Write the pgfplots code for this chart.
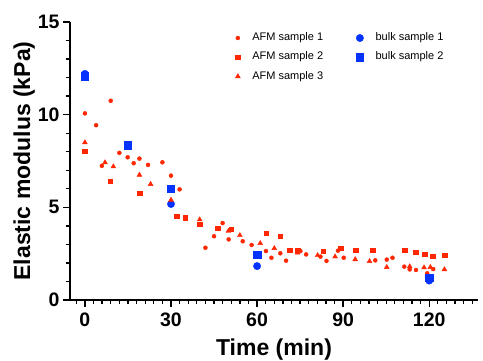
\documentclass[border=0pt]{standalone}
\usepackage{pgfplots}
\pgfplotsset{compat=1.18}
\usepackage{fontspec}
\setmainfont{Liberation Sans}
\definecolor{pred}{HTML}{FF2600}
\definecolor{pblue}{HTML}{0433FF}
\begin{document}
\begin{tikzpicture}
\path[use as bounding box] (0,0) rectangle (483pt,360pt);
\begin{axis}[
  at={(70pt,60pt)}, anchor=south west,
  scale only axis, width=408pt, height=278pt,
  xmin=-5.2, xmax=137, ymin=0, ymax=15,
  axis lines=left,
  axis line style={line width=1.5pt,-},
  xtick={0,30,60,90,120},
  minor xtick={-3,3,6,...,135},
  ytick={0,5,10,15},
  minor ytick={1,...,14},
  tick align=outside,
  major tick length=7pt, minor tick length=4pt,
  every tick/.style={line width=1.3pt, black},
  /pgf/number format/assume math mode=true,
  ticklabel style={font=\bfseries\fontsize{19.5}{20}\selectfont},
  xticklabel style={yshift=-2pt},
  xlabel={Time (min)},
  ylabel={Elastic modulus (kPa)},
  label style={font=\bfseries\fontsize{23}{25}\selectfont},
  xlabel style={yshift=-5.5pt},
  ylabel style={yshift=-4pt},
  clip=false,
  legend columns=2,
  legend cell align=left,
  legend style={draw=none, fill=none, inner sep=0pt,
    at={(0.405,0.962)}, anchor=north west,
    font=\fontsize{11}{13}\selectfont,
    nodes={inner sep=0pt, text height=8pt, text depth=2.5pt},
    row sep=8.7pt,
    /tikz/every odd column/.append style={column sep=12pt},
    /tikz/every even column/.append style={column sep=33pt}},
  legend image code/.code={\draw[#1] plot coordinates {(0pt,0pt)};},
]
\addplot[only marks, mark=*, mark size=2pt, color=pred] coordinates {
(0,10.07) (3.9,9.43) (5.9,7.24) (9,10.75) (12,7.94) (14.9,7.7) (17,7.38) (19,7.63) (22,7.29) (27,7.43) (30,6.71) (33,5.97) (42,2.82) (45,3.44) (48,4.15) (50.1,3.27) (55,3.17) (58.1,2.97) (63.1,2.64) (65,2.28) (68.1,2.52) (70.1,2.12) (75.1,2.64) (77.1,2.46) (82.1,2.34) (84.2,2.11) (88.2,2.66) (90.2,2.28) (101.2,2.14) (105.2,2.18) (107.2,2.28) (111.3,1.8) (113.2,1.65) (115.4,1.62) (119.3,1.44) (121.4,1.67)
};
\addlegendentry{AFM sample 1}
\addplot[only marks, mark=*, mark size=3.7pt, color=pblue] coordinates {
(0,12.2) (30,5.18) (60,1.83) (120,1.05)
};
\addlegendentry{bulk sample 1}
\addplot[only marks, mark=square*, mark size=2.3pt, color=pred] coordinates {
(0,8.02) (8.8,6.4) (19,5.76) (31.9,4.52) (35,4.43) (40,4.1) (46.2,3.87) (51,3.81) (63.2,3.6) (68.1,3.44) (71.3,2.68) (74.1,2.68) (83.1,2.64) (89.1,2.79) (94.3,2.68) (100.2,2.68) (111.4,2.68) (115.2,2.57) (118.4,2.47) (121.2,2.37) (125.3,2.41)
};
\addlegendentry{AFM sample 2}
\addplot[only marks, mark=square*, mark size=3.7pt, color=pblue] coordinates {
(0,12.07) (14.9,8.35) (30,6.01) (60,2.43) (120,1.2)
};
\addlegendentry{bulk sample 2}
\addplot[only marks, mark=triangle*, mark size=2.8pt, color=pred] coordinates {
(0,8.5) (7,7.42) (9.9,7.2) (19,6.75) (22.9,6.25) (30,5.4) (40,4.34) (50,3.72) (54,3.49) (61.1,3.06) (66,2.79) (74.1,2.55) (81.1,2.41) (87.2,2.34) (94.2,2.19) (99.2,2.09) (105.2,1.77) (113.2,1.81) (118.2,1.75) (120.4,1.77) (125.3,1.65)
};
\addlegendentry{AFM sample 3}
\end{axis}
\end{tikzpicture}
\end{document}
